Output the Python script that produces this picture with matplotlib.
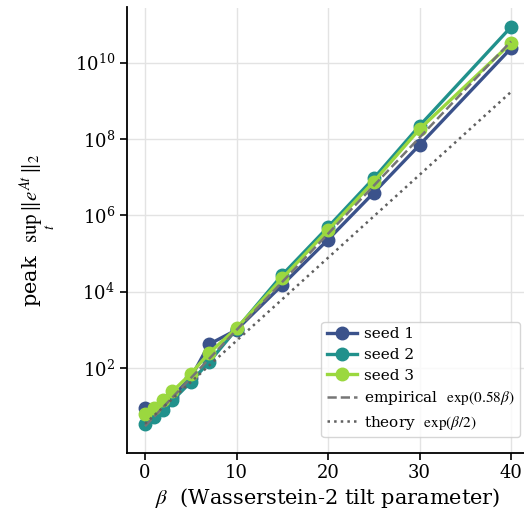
import numpy as np
import matplotlib
matplotlib.use("Agg")
import matplotlib.pyplot as plt

plt.rcParams['font.family'] = ['DejaVu Serif']
plt.rcParams['mathtext.fontset'] = 'stix'

beta = [0, 1, 2, 3, 5, 7, 10, 15, 20, 25, 30, 40]
seed1 = [9.0, 7.0, 11.0, 18.0, 55.0, 420.0, 1000.0, 1.5e4, 2.3e5, 3.9e6, 6.9e7, 2.35e10]
seed2 = [3.4, 5.2, 8.1, 14.2, 43.0, 144.0, 1050.0, 2.75e4, 4.9e5, 9.3e6, 2.2e8, 8.5e10]
seed3 = [6.4, 9.0, 14.8, 24.5, 71.0, 247.0, 1100.0, 2.25e4, 4.1e5, 7.6e6, 1.8e8, 3.2e10]
emp_coef, emp_rate = 3.0, 0.58
th_coef, th_rate = 3.5, 0.5
yticks = [1e2, 1e4, 1e6, 1e8, 1e10]
xticks = [0, 10, 20, 30, 40]

W, H = 524, 521
fig = plt.figure(figsize=(W / 100, H / 100), dpi=100)
ax = fig.add_axes([126.7 / W, (H - 452.5) / H, 402.6 / W, 445.0 / H])

colors = ['#3b528b', '#21918c', '#9bd83f']
b = np.array(beta, dtype=float)
for s, c, lab in zip([seed1, seed2, seed3], colors, ['seed 1', 'seed 2', 'seed 3']):
    ax.plot(beta, s, '-o', color=c, lw=2.4, ms=9, label=lab)
ax.plot(b, emp_coef * np.exp(emp_rate * b), '--', color='#767676', lw=1.8,
        label=r'empirical  $\exp(0.58\beta)$')
ax.plot(b, th_coef * np.exp(th_rate * b), ':', color='#606060', lw=1.8,
        label=r'theory  $\exp(\beta/2)$')

ax.set_yscale('log')
ax.set_xlim(-2, 42)
ax.set_ylim(10 ** -0.21, 10 ** 11.44)
ax.set_yticks(yticks)
ax.yaxis.set_minor_locator(matplotlib.ticker.NullLocator())
ax.set_xticks(xticks)
ax.tick_params(labelsize=13, length=5, width=1.2)
ax.grid(True, color='#e3e3e3', lw=1)
ax.set_axisbelow(True)
for sp in ['top', 'right']:
    ax.spines[sp].set_visible(False)
for sp in ['left', 'bottom']:
    ax.spines[sp].set_linewidth(1.3)

ax.set_xlabel(r'$\beta$  (Wasserstein-2 tilt parameter)', fontsize=15, labelpad=3)
ax.set_ylabel(r'peak  $\sup_t\,\|e^{At}\|_2$', fontsize=15, labelpad=12)

leg = ax.legend(loc='lower right', bbox_to_anchor=(520 / W, (H - 437) / H),
                bbox_transform=fig.transFigure, fontsize=11, borderaxespad=0,
                handlelength=2.0, labelspacing=0.43, borderpad=0.35, handletextpad=0.45)

fig.savefig('out.png', dpi=100)
